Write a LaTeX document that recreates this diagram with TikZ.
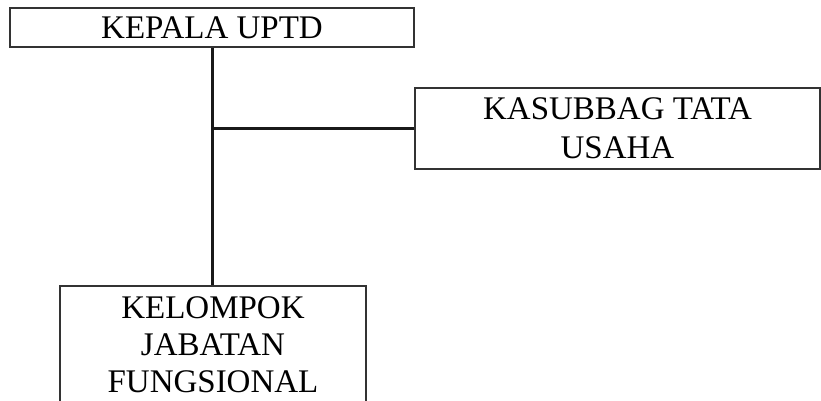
\documentclass[tikz,border=0pt]{standalone}
\usepackage{fontspec}
\setmainfont{Liberation Serif}
\begin{document}
\begin{tikzpicture}[x=1pt,y=-1pt,
  unit/.style={draw=black!80, line width=1.1pt, inner sep=0pt, align=center,
    font=\fontsize{33}{37}\selectfont},
  link/.style={line width=3pt, black!90}]
  \useasboundingbox (0,0) rectangle (821,401);
  \clip (0,0) rectangle (821,401);
  % boxes
  \node[unit, minimum width=404pt, minimum height=39pt] (kepala) at (212,27.5) {KEPALA UPTD};
  \node[unit, minimum width=405pt, minimum height=81pt, font=\fontsize{33}{39}\selectfont] (tu) at (617.5,128.5) {KASUBBAG TATA\\USAHA};
  \node[unit, minimum width=306pt, minimum height=117pt] (jf) at (213,344.5) {KELOMPOK\\JABATAN\\FUNGSIONAL};
  % connectors
  \draw[link] (kepala.south) -- (kepala.south |- jf.north);
  \draw[link] (kepala.south |- tu.west) -- (tu.west);
\end{tikzpicture}
\end{document}
